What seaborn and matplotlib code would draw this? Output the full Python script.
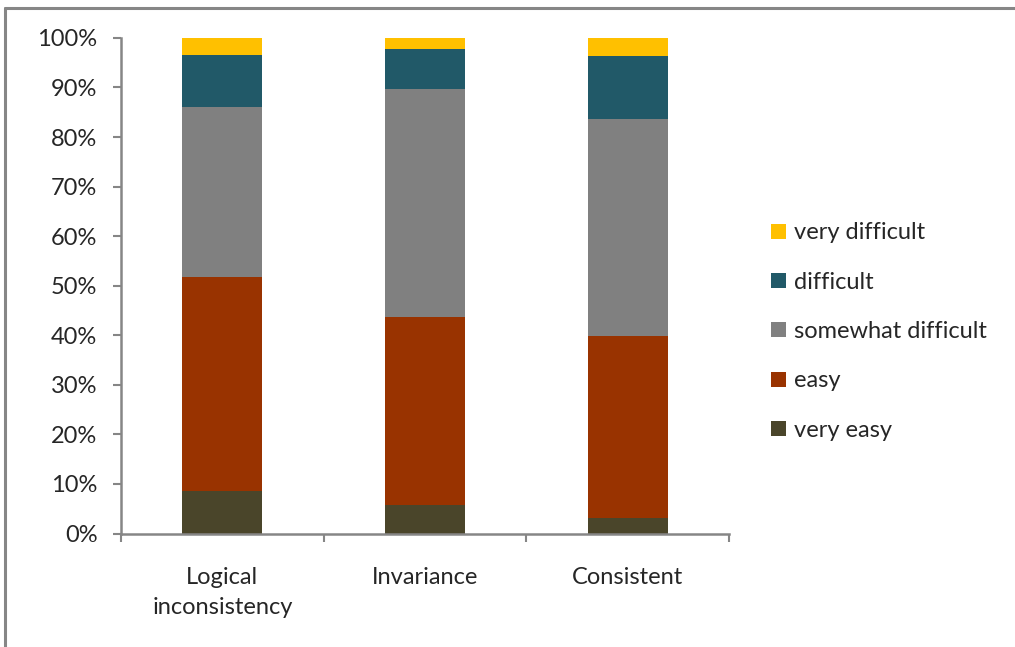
import numpy as np
import matplotlib
matplotlib.use("Agg")
import matplotlib.pyplot as plt
from matplotlib.patches import Patch
from matplotlib.lines import Line2D
import seaborn as sns
import pandas as pd

# Survey answers per item type, percent of respondents
categories = ["Logical\ninconsistency", "Invariance", "Consistent"]
levels = ["very easy", "easy", "somewhat difficult", "difficult", "very difficult"]
very_easy = [8.6, 5.75, 3.1]
easy = [43.2, 38.0, 36.8]
somewhat_difficult = [34.3, 46.0, 43.8]
difficult = [10.5, 8.1, 12.7]
very_difficult = [3.4, 2.15, 3.6]
colors = ["#4A452A", "#993300", "#808080", "#215968", "#FFC000"]
ytick_labels = ["0%", "10%", "20%", "30%", "40%", "50%", "60%", "70%", "80%", "90%", "100%"]

series = [very_easy, easy, somewhat_difficult, difficult, very_difficult]
values = np.array(series, dtype=float)
totals = values.sum(axis=0)
shares = values / totals * 100
cumulative = np.cumsum(shares, axis=0)

sns.set_style("white")
plt.rcParams["font.family"] = ["Lato", "DejaVu Sans"]
axis_grey = "#868686"
fs = 17

fig = plt.figure(figsize=(10.15, 6.47), dpi=100)
ax = fig.add_axes([0.1192, 0.1754, 0.599, 0.766])

# stacked bars: draw cumulative tops from the highest segment down
for i in range(len(levels) - 1, -1, -1):
    df = pd.DataFrame({"category": categories, "value": cumulative[i]})
    sns.barplot(data=df, x="category", y="value", color=colors[i],
                saturation=1, width=0.395, ax=ax, linewidth=0,
                order=categories)

ax.set_xlim(-0.5, 2.5)
ax.set_ylim(0, 100)
ax.set_xlabel("")
ax.set_ylabel("")
ax.set_yticks(np.arange(0, 101, 10))
ax.set_yticklabels(ytick_labels, fontsize=fs)
ax.set_xticks([0, 1, 2])
ax.set_xticklabels(categories, fontsize=fs, linespacing=1.55)
ax.tick_params(axis="y", direction="out", length=6, width=1.5, color=axis_grey, pad=11, left=True)
ax.tick_params(axis="x", length=0, pad=24)
# category boundary ticks on the x axis
ax.set_xticks([-0.5, 0.5, 1.5, 2.5], minor=True)
ax.tick_params(axis="x", which="minor", direction="out", length=6, width=1.5, color=axis_grey, bottom=True)

for side in ["top", "right"]:
    ax.spines[side].set_visible(False)
for side in ["left", "bottom"]:
    ax.spines[side].set_color(axis_grey)
    ax.spines[side].set_linewidth(1.8)

handles = [Patch(facecolor=colors[i], edgecolor="none", label=levels[i])
           for i in range(len(levels) - 1, -1, -1)]
fig.legend(handles=handles, loc="center left", bbox_to_anchor=(0.739, 0.4876),
           frameon=False, fontsize=fs, handlelength=0.6, handleheight=0.6,
           handletextpad=0.35, labelspacing=1.2)

# outer chart frame
fig.add_artist(Line2D([5 / 1015, 1.0], [1 - 8 / 647, 1 - 8 / 647], color=axis_grey, lw=2.2))
fig.add_artist(Line2D([5 / 1015, 5 / 1015], [0.0, 1 - 8 / 647], color=axis_grey, lw=2.2))

fig.savefig("out.png", dpi=100)
